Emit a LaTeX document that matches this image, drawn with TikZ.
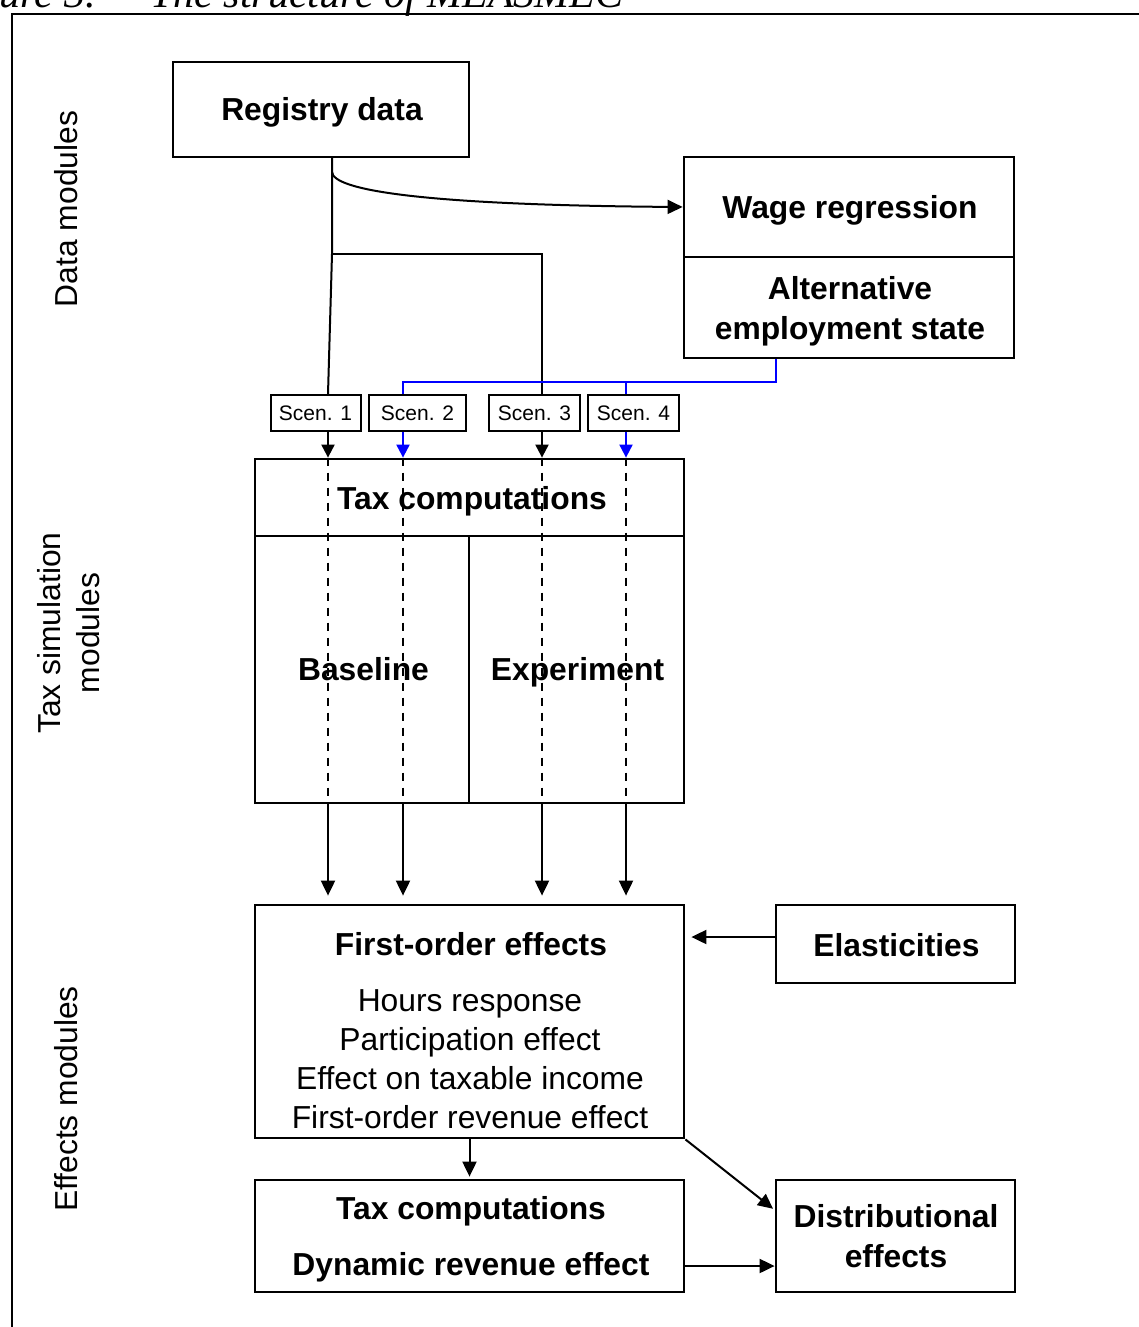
\documentclass[tikz,border=0pt]{standalone}
\usepackage{fontspec}
\setmainfont{Liberation Sans}
\newfontfamily\capfont{Liberation Serif}
\usetikzlibrary{arrows.meta}
\begin{document}
\begin{tikzpicture}[x=0.5pt,y=-0.5pt,
  box/.style={draw,line width=1.4pt,inner sep=0pt},
  sbox/.style={draw,line width=1pt,inner sep=0pt,font=\fontsize{10.5}{12}\selectfont,text height=7.9pt,text depth=0.9pt},
  lbl/.style={inner sep=0pt,font=\fontsize{15.9}{20}\bfseries\selectfont},
  txt/.style={inner sep=0pt,font=\fontsize{15.9}{19.5}\selectfont},
  ln/.style={line width=1pt},
  conn/.style={line width=1pt,-{Triangle[length=7.5pt,width=7pt]}},
  sconn/.style={line width=1pt,-{Triangle[length=6.5pt,width=6.5pt]}},
  bl/.style={line width=1pt,color=blue},
  dashln/.style={line width=0.8pt,dash pattern=on 4pt off 3.5pt},
  capt/.style={inner sep=0pt,font=\capfont\itshape\fontsize{21}{24}\selectfont}
]
\useasboundingbox (0,0) rectangle (1139,1327);

% caption (cut at the top of the picture)
\node[capt,anchor=base east] (capA) at (96,8) {Figure 3.};
\node[capt,anchor=base west] (capB) at (150,8) {The structure of MEASMEC};

% outer frame
\draw[ln] (1160,14) -- (12,14) -- (12,1350);

% side labels
\node[txt,rotate=90] (sd1) at (66.5,209) {Data modules};
\node[txt,rotate=90,align=center] (sd2) at (69,633) {Tax simulation\\modules};
\node[txt,rotate=90] (sd3) at (66.5,1099) {Effects modules};

% boxes
\node[box,minimum width=148pt,minimum height=47.5pt] (reg) at (321,109.5) {};
\node[box,minimum width=165pt,minimum height=50pt] (wage) at (849,207) {};
\node[box,minimum width=165pt,minimum height=50.5pt] (alt) at (849,307.5) {};
\node[sbox,minimum width=45pt,minimum height=18pt] (s1) at (315.5,413) {Scen. 1};
\node[sbox,minimum width=48.5pt,minimum height=18pt] (s2) at (417.5,413) {Scen. 2};
\node[sbox,minimum width=45.5pt,minimum height=18pt] (s3) at (534.5,413) {Scen. 3};
\node[sbox,minimum width=45.5pt,minimum height=18pt] (s4) at (633.5,413) {Scen. 4};
\node[box,minimum width=214.5pt,minimum height=38.5pt] (taxc) at (469.5,497.5) {};
\node[box,minimum width=107pt,minimum height=133.5pt] (base) at (362,669.5) {};
\node[box,minimum width=107.5pt,minimum height=133.5pt] (expt) at (576.5,669.5) {};
\node[box,minimum width=214.5pt,minimum height=116.5pt] (fo) at (469.5,1021.5) {};
\node[box,minimum width=119.5pt,minimum height=39pt] (elas) at (895.5,944) {};
\node[box,minimum width=119.5pt,minimum height=56pt] (dist) at (895.5,1236) {};
\node[box,minimum width=214.5pt,minimum height=56pt] (dyn) at (469.5,1236) {};

% texts
\node[lbl,anchor=base] (regT) at (322,120) {Registry data};
\node[lbl,anchor=base] (wageT) at (850,218) {Wage regression};
\node[lbl,anchor=base] (altT1) at (850,299) {Alternative};
\node[lbl,anchor=base] (altT2) at (850,339) {employment state};
\node[lbl,anchor=base] (taxT) at (472,509) {Tax computations};
\node[lbl,anchor=base] (baseT) at (363.5,680) {Baseline};
\node[lbl,anchor=base] (exptT) at (577.5,680) {Experiment};
\node[lbl,anchor=base] (foT) at (471,955) {First-order effects};
\node[txt,anchor=base] (fo1) at (470,1011) {Hours response};
\node[txt,anchor=base] (fo2) at (470,1050) {Participation effect};
\node[txt,anchor=base] (fo3) at (470,1089) {Effect on taxable income};
\node[txt,anchor=base] (fo4) at (470,1128) {First-order revenue effect};
\node[lbl,anchor=base] (elasT) at (896.5,956) {Elasticities};
\node[lbl,anchor=base] (distT1) at (896,1227) {Distributional};
\node[lbl,anchor=base] (distT2) at (896,1267) {effects};
\node[lbl,anchor=base] (dynT1) at (471,1219) {Tax computations};
\node[lbl,anchor=base] (dynT2) at (471,1275) {Dynamic revenue effect};

% helper coordinates
\coordinate (t0) at (332,157);
\coordinate (t1) at (332,254);
\coordinate (t2) at (542,254);
\coordinate (c0) at (332,172);
\coordinate (k1) at (328,0);
\coordinate (k2) at (403,0);
\coordinate (k3) at (542,0);
\coordinate (k4) at (626,0);
\coordinate (kb) at (776,0);
\coordinate (hb) at (0,382);
\coordinate (he) at (0,937);
\coordinate (hd) at (0,1210);
\coordinate (hr) at (0,1266);

% data connectors
\draw[ln] (t0) -- (t1) -- (s1.north -| k1);
\draw[ln] (t1) -- (t2) -- (s3.north -| k3);
\draw[conn] (c0) .. controls (333,190) and (420,205) .. (wage.west);
\draw[bl] (alt.south -| kb) -- (kb |- hb) -- (k2 |- hb) -- (s2.north -| k2);
\draw[bl] (k4 |- hb) -- (s4.north -| k4);

% scenario arrows
\draw[sconn] (s1.south -| k1) -- (taxc.north -| k1);
\draw[sconn,blue] (s2.south -| k2) -- (taxc.north -| k2);
\draw[sconn] (s3.south -| k3) -- (taxc.north -| k3);
\draw[sconn,blue] (s4.south -| k4) -- (taxc.north -| k4);

% dashed lines through tax computations
\draw[dashln] (taxc.north -| k1) -- (base.south -| k1);
\draw[dashln] (taxc.north -| k2) -- (base.south -| k2);
\draw[dashln] (taxc.north -| k3) -- (expt.south -| k3);
\draw[dashln] (taxc.north -| k4) -- (expt.south -| k4);

% arrows to first-order effects
\draw[conn,shorten >=4pt] (base.south -| k1) -- (fo.north -| k1);
\draw[conn,shorten >=4pt] (base.south -| k2) -- (fo.north -| k2);
\draw[conn,shorten >=4pt] (expt.south -| k3) -- (fo.north -| k3);
\draw[conn,shorten >=4pt] (expt.south -| k4) -- (fo.north -| k4);

% effects connectors
\draw[conn,shorten >=3pt] (elas.west |- he) -- (fo.east |- he);
\draw[conn,shorten >=1pt] (fo.south east) -- (dist.west |- hd);
\draw[conn,shorten >=1pt] (fo.south) -- (dyn.north);
\draw[conn] (dyn.east |- hr) -- (dist.west |- hr);
\end{tikzpicture}
\end{document}
